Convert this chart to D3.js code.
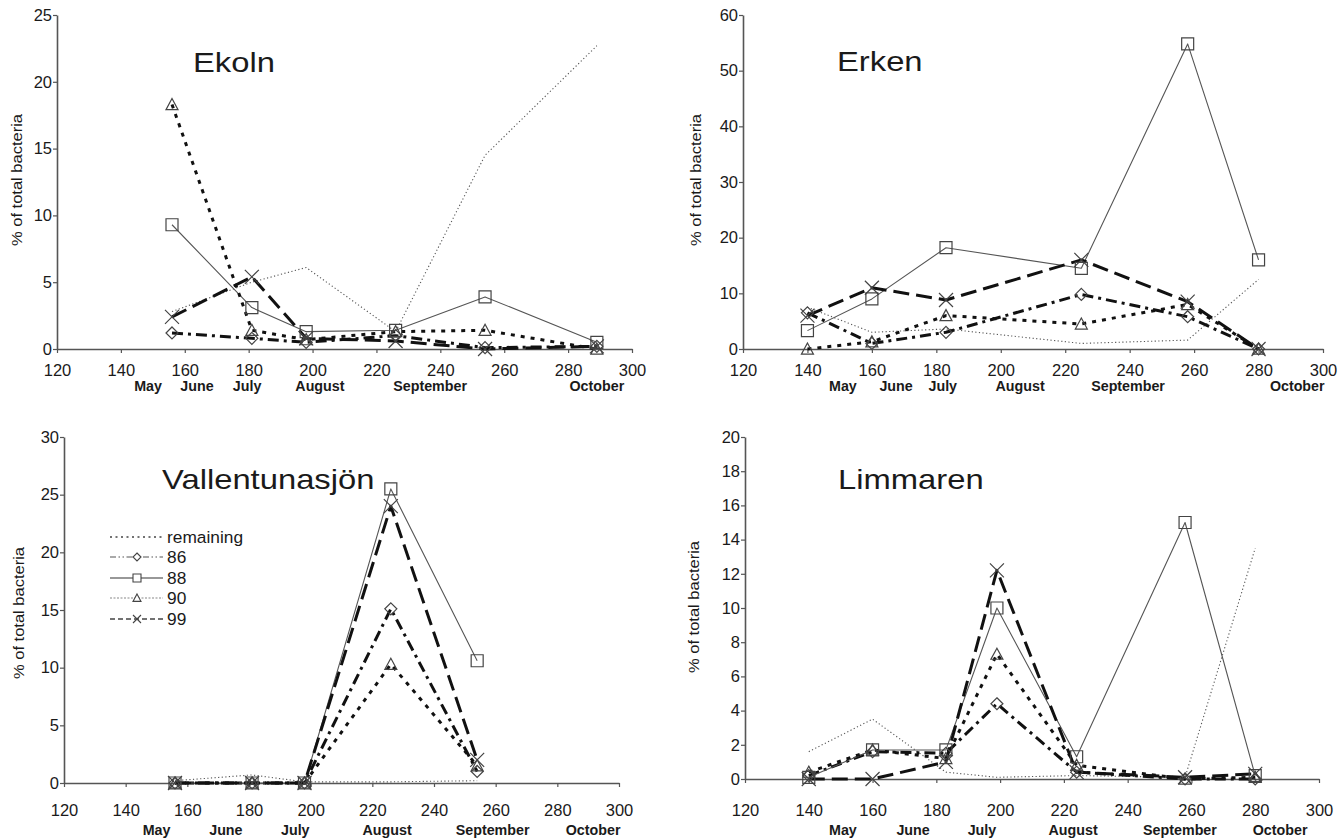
<!DOCTYPE html>
<html><head><meta charset="utf-8">
<script src="https://cdn.jsdelivr.net/npm/d3@7"></script>
<style>
html,body{margin:0;padding:0;background:#fff;}
svg{display:block;font-family:"Liberation Sans",Arial,sans-serif;}
</style></head>
<body>
<svg id="chart" width="1341" height="839"></svg>
<script>
// ---------- data ----------
const seriesNames = ["remaining", "86", "88", "90", "99"];
const months = ["May", "June", "July", "August", "September", "October"];
const xTicks = [120, 140, 160, 180, 200, 220, 240, 260, 280, 300];

const ekolnDays      = [156, 181, 198, 226, 254, 289];
const ekolnRemaining = [2.8, 5.0, 6.1, 1.3, 14.5, 22.7];
const ekoln86        = [1.2, 0.8, 0.5, 1.0, 0.1, 0.2];
const ekoln88        = [9.3, 3.1, 1.3, 1.4, 3.9, 0.5];
const ekoln90        = [18.3, 1.4, 0.7, 1.3, 1.4, 0.0];
const ekoln99        = [2.4, 5.4, 0.8, 0.6, 0.0, 0.2];
const ekolnYTicks    = [0, 5, 10, 15, 20, 25];

const erkenDays      = [140, 160, 183, 225, 258, 280];
const erkenRemaining = [7.5, 3.0, 3.6, 1.0, 1.6, 12.5];
const erken86        = [6.5, 1.0, 3.0, 9.8, 5.8, 0.0];
const erken88        = [3.3, 9.0, 18.2, 14.5, 54.8, 16.0];
const erken90        = [0.0, 1.3, 6.0, 4.5, 8.0, 0.0];
const erken99        = [6.0, 11.0, 8.8, 16.0, 8.5, 0.0];
const erkenYTicks    = [0, 10, 20, 30, 40, 50, 60];

const vallDays       = [156, 181, 198, 226, 254];
const vallRemaining  = [0.2, 0.7, 0.1, 0.1, 0.2];
const vall86         = [0.0, 0.0, 0.0, 15.1, 1.0];
const vall88         = [0.0, 0.0, 0.0, 25.5, 10.6];
const vall90         = [0.0, 0.0, 0.0, 10.3, 1.5];
const vall99         = [0.0, 0.0, 0.0, 24.0, 2.0];
const vallYTicks     = [0, 5, 10, 15, 20, 25, 30];

const limmDays       = [140, 160, 183, 199, 224, 258, 280];
const limmRemaining  = [1.6, 3.5, 0.4, 0.1, 0.2, 0.1, 13.5];
const limm86         = [0.2, 1.6, 1.5, 4.4, 0.4, 0.0, 0.0];
const limm88         = [0.1, 1.7, 1.7, 10.0, 1.3, 15.0, 0.2];
const limm90         = [0.4, 1.7, 1.2, 7.3, 0.8, 0.0, 0.1];
const limm99         = [0.0, 0.0, 1.0, 12.2, 0.4, 0.1, 0.3];
const limmYTicks     = [0, 2, 4, 6, 8, 10, 12, 14, 16, 18, 20];

// ---------- styles ----------
const lineStyle = {
  "remaining": {stroke: "#555", width: 1.1, dash: "1.2,2.4", marker: null},
  "86": {stroke: "#111", width: 3, dash: "11,5,3,5", marker: "diamond"},
  "88": {stroke: "#555", width: 1.1, dash: null, marker: "square"},
  "90": {stroke: "#111", width: 3, dash: "4,6", marker: "triangle"},
  "99": {stroke: "#111", width: 3, dash: "16,7", marker: "x"}
};
const legendStyle = {
  "remaining": {stroke: "#444", width: 1.3, dash: "2,3.5"},
  "86": {stroke: "#555", width: 1.1, dash: "6,2.5,1.5,2.5,1.5,2.5"},
  "88": {stroke: "#333", width: 1.1, dash: null},
  "90": {stroke: "#888", width: 1.1, dash: "2,1.5"},
  "99": {stroke: "#444", width: 1.3, dash: "5,3"}
};

function markerPath(type, s) {
  const h = s / 2;
  if (type === "square") return `M${-h},${-h}H${h}V${h}H${-h}Z`;
  if (type === "diamond") return `M0,${-h}L${h},0L0,${h}L${-h},0Z`;
  if (type === "triangle") return `M0,${-h}L${h},${h * 0.85}L${-h},${h * 0.85}Z`;
  if (type === "x") return `M${-h},${-h}L${h},${h}M${h},${-h}L${-h},${h}`;
  return "";
}

const panels = [
  {title: "Ekoln", days: ekolnDays, vals: [ekolnRemaining, ekoln86, ekoln88, ekoln90, ekoln99], yTicks: ekolnYTicks,
   x0: 57, x1: 632, yB: 349, yT: 15, titleX: 193, titleY: 72, ylabX: 22, ylabY: 180,
   tickPad: 11, monthY: 391, monthAt: [148.5, 163.8, 179.5, 202.3, 236.8, 289]},
  {title: "Erken", days: erkenDays, vals: [erkenRemaining, erken86, erken88, erken90, erken99], yTicks: erkenYTicks,
   x0: 743, x1: 1323, yB: 349, yT: 15, titleX: 837, titleY: 71, ylabX: 701, ylabY: 180,
   tickPad: 11, monthY: 391, monthAt: [151, 167.5, 182, 206, 239.5, 292]},
  {title: "Vallentunasjön", days: vallDays, vals: [vallRemaining, vall86, vall88, vall90, vall99], yTicks: vallYTicks,
   x0: 64, x1: 619, yB: 783, yT: 437, titleX: 162, titleY: 489, ylabX: 24, ylabY: 613,
   tickPad: 17, monthY: 835, monthAt: [150, 172.5, 195, 224.8, 259, 291.6], legend: true},
  {title: "Limmaren", days: limmDays, vals: [limmRemaining, limm86, limm88, limm90, limm99], yTicks: limmYTicks,
   x0: 745, x1: 1319, yB: 779, yT: 437, titleX: 838, titleY: 489, ylabX: 699, ylabY: 607,
   tickPad: 21, monthY: 835, monthAt: [150.7, 172.7, 194.3, 222.9, 256.4, 287.8]}
];

const svg = d3.select("#chart");
const TEXT = "#1a1a1a";

function stretchedText(g, x, y, str, opts) {
  const gg = g.append("g").attr("transform", `translate(${x},${y})${opts.rotate ? " rotate(" + opts.rotate + ")" : ""}`);
  return gg.append("text")
    .attr("transform", `scale(${opts.sx || 1},1)`)
    .attr("text-anchor", opts.anchor || "start")
    .attr("font-size", opts.size)
    .attr("font-weight", opts.weight || "normal")
    .attr("fill", TEXT)
    .text(str);
}

panels.forEach(p => {
  const g = svg.append("g");
  const x = d3.scaleLinear().domain([120, 300]).range([p.x0, p.x1]);
  const yMax = p.yTicks[p.yTicks.length - 1];
  const y = d3.scaleLinear().domain([0, yMax]).range([p.yB, p.yT]);

  // axes
  const xAxis = d3.axisBottom(x).tickValues(xTicks).tickSize(4).tickPadding(p.tickPad).tickSizeOuter(0);
  const gx = g.append("g").attr("transform", `translate(0,${p.yB})`).call(xAxis);
  const yAxis = d3.axisLeft(y).tickValues(p.yTicks).tickSize(4).tickPadding(1).tickSizeOuter(0);
  const gy = g.append("g").attr("transform", `translate(${p.x0},0)`).call(yAxis);
  [gx, gy].forEach(a => {
    a.attr("font-size", 16.5).attr("font-family", "'Liberation Sans',Arial,sans-serif");
    a.select(".domain").attr("stroke", "#555").attr("stroke-width", 1.6);
    a.selectAll(".tick line").attr("stroke", "#555").attr("stroke-width", 1.2);
    a.selectAll(".tick text").attr("font-size", 16.5).attr("fill", TEXT);
  });

  // month labels
  months.forEach((m, i) => {
    stretchedText(g, x(p.monthAt[i]), p.monthY, m, {size: 14, weight: "bold", anchor: "middle", sx: 1.02});
  });

  // title
  stretchedText(g, p.titleX, p.titleY, p.title, {size: 28, sx: 1.17});
  // y label
  stretchedText(g, p.ylabX, p.ylabY, "% of total bacteria", {size: 15, anchor: "middle", rotate: -90, sx: 1.1});

  // lines
  seriesNames.forEach((name, si) => {
    const st = lineStyle[name];
    const pts = p.days.map((d, i) => [d, p.vals[si][i]]);
    const line = d3.line().x(d => x(d[0])).y(d => y(d[1]));
    g.append("path").attr("d", line(pts)).attr("fill", "none")
      .attr("stroke", st.stroke).attr("stroke-width", st.width)
      .attr("stroke-dasharray", st.dash).attr("stroke-linejoin", "round");
  });
  // markers
  seriesNames.forEach((name, si) => {
    const st = lineStyle[name];
    if (!st.marker) return;
    const pts = p.days.map((d, i) => [d, p.vals[si][i]]);
    g.selectAll(null).data(pts).enter().append("path")
      .attr("transform", d => `translate(${x(d[0])},${y(d[1])})`)
      .attr("d", markerPath(st.marker, st.marker === "x" ? 14 : 12))
      .attr("fill", "none").attr("stroke", "#444").attr("stroke-width", 1.2);
  });

  // legend
  if (p.legend) {
    const lg = g.append("g");
    const rowY = [537, 557, 578, 598, 619];
    seriesNames.forEach((name, i) => {
      const st = legendStyle[name];
      const ls = lineStyle[name];
      lg.append("line").attr("x1", 110).attr("x2", 163).attr("y1", rowY[i]).attr("y2", rowY[i])
        .attr("stroke", st.stroke).attr("stroke-width", st.width).attr("stroke-dasharray", st.dash);
      if (ls.marker) {
        lg.append("path").attr("transform", `translate(137,${rowY[i]})`)
          .attr("d", markerPath(ls.marker, 8)).attr("fill", "#fff").attr("stroke", "#444").attr("stroke-width", 1.1);
      }
      stretchedText(lg, 167, rowY[i] + 6, name, {size: 16.5, sx: 1.05});
    });
  }
});
</script>
</body></html>
